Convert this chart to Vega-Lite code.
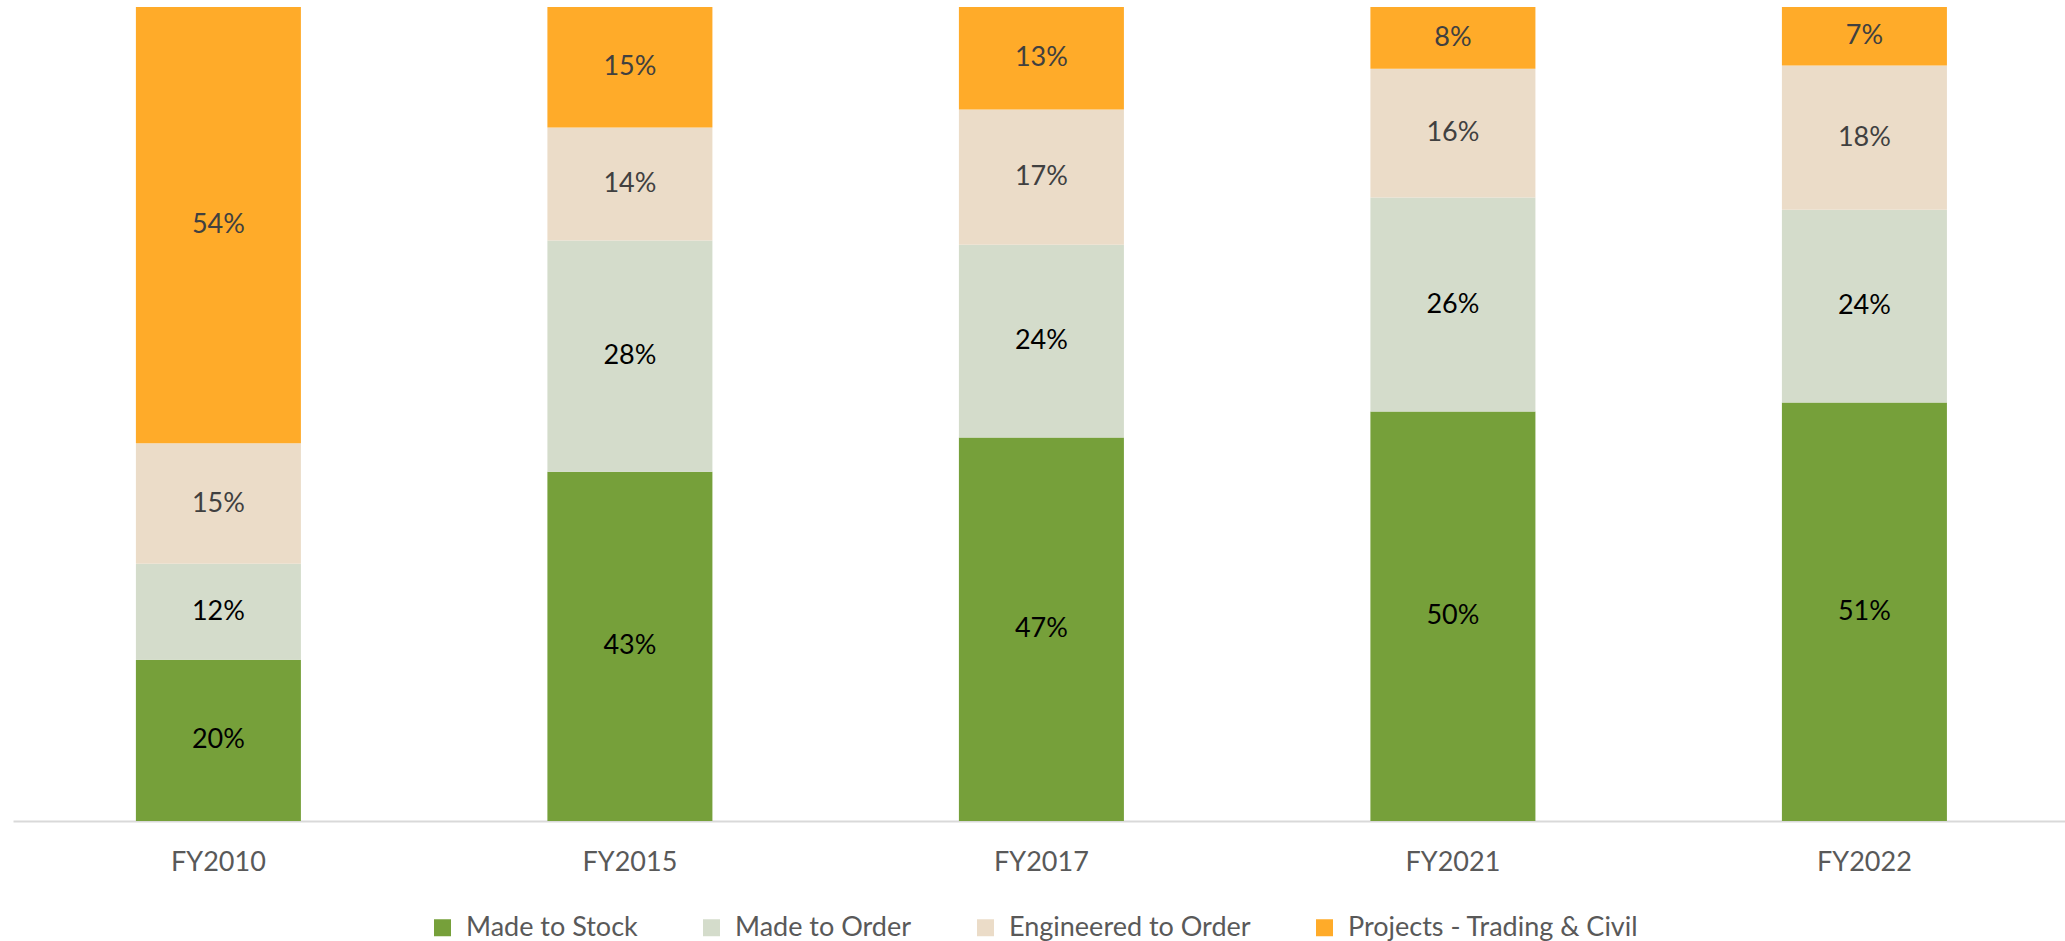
{
  "$schema": "https://vega.github.io/schema/vega-lite/v6.json",
  "width": 2052,
  "height": 814,
  "autosize": {"type": "none"},
  "padding": {"left": 13, "top": 7, "right": 0, "bottom": 120},
  "background": "white",
  "config": {"view": {"stroke": null}, "font": "Lato"},
  "data": {
    "values": [
      {"year": "FY2010", "segment": "Made to Stock", "ord": 1, "share": 0.198},
      {"year": "FY2010", "segment": "Made to Order", "ord": 2, "share": 0.118},
      {"year": "FY2010", "segment": "Engineered to Order", "ord": 3, "share": 0.148},
      {"year": "FY2010", "segment": "Projects - Trading & Civil", "ord": 4, "share": 0.536},
      {"year": "FY2015", "segment": "Made to Stock", "ord": 1, "share": 0.429},
      {"year": "FY2015", "segment": "Made to Order", "ord": 2, "share": 0.284},
      {"year": "FY2015", "segment": "Engineered to Order", "ord": 3, "share": 0.139},
      {"year": "FY2015", "segment": "Projects - Trading & Civil", "ord": 4, "share": 0.148},
      {"year": "FY2017", "segment": "Made to Stock", "ord": 1, "share": 0.471},
      {"year": "FY2017", "segment": "Made to Order", "ord": 2, "share": 0.237},
      {"year": "FY2017", "segment": "Engineered to Order", "ord": 3, "share": 0.166},
      {"year": "FY2017", "segment": "Projects - Trading & Civil", "ord": 4, "share": 0.126},
      {"year": "FY2021", "segment": "Made to Stock", "ord": 1, "share": 0.503},
      {"year": "FY2021", "segment": "Made to Order", "ord": 2, "share": 0.263},
      {"year": "FY2021", "segment": "Engineered to Order", "ord": 3, "share": 0.158},
      {"year": "FY2021", "segment": "Projects - Trading & Civil", "ord": 4, "share": 0.076},
      {"year": "FY2022", "segment": "Made to Stock", "ord": 1, "share": 0.514},
      {"year": "FY2022", "segment": "Made to Order", "ord": 2, "share": 0.237},
      {"year": "FY2022", "segment": "Engineered to Order", "ord": 3, "share": 0.177},
      {"year": "FY2022", "segment": "Projects - Trading & Civil", "ord": 4, "share": 0.072}
    ]
  },
  "encoding": {
    "x": {
      "field": "year",
      "type": "nominal",
      "sort": ["FY2010", "FY2015", "FY2017", "FY2021", "FY2022"],
      "scale": {"paddingInner": 0.599, "paddingOuter": 0.2928, "align": 0.51},
      "axis": {
        "title": null,
        "labelAngle": 0,
        "domain": true,
        "domainColor": "#D9D9D9",
        "domainWidth": 2,
        "ticks": false,
        "tickSize": 0,
        "grid": false,
        "labelFontSize": 27,
        "labelColor": "#595959",
        "labelBaseline": "middle",
        "labelPadding": 41
      }
    }
  },
  "layer": [
    {
      "mark": {"type": "bar"},
      "encoding": {
        "y": {
          "field": "share",
          "type": "quantitative",
          "stack": "normalize",
          "scale": {"domain": [0, 1], "nice": false},
          "axis": null
        },
        "color": {
          "field": "segment",
          "type": "nominal",
          "scale": {
            "domain": ["Made to Stock", "Made to Order", "Engineered to Order", "Projects - Trading & Civil"],
            "range": ["#76A03A", "#D4DCCB", "#EBDCC8", "#FFAB29"]
          },
          "legend": {
            "title": null,
            "orient": "none",
            "direction": "horizontal",
            "legendX": 416,
            "legendY": 907,
            "symbolType": "square",
            "symbolSize": 289,
            "symbolStrokeWidth": 0,
            "labelFontSize": 27,
            "labelColor": "#595959",
            "labelOffset": 10,
            "labelLimit": 600,
            "columnPadding": 60
          }
        },
        "order": {"field": "ord", "type": "quantitative", "sort": "ascending"}
      }
    },
    {
      "transform": [
        {
          "stack": "share",
          "groupby": ["year"],
          "sort": [{"field": "ord", "order": "ascending"}],
          "offset": "normalize",
          "as": ["y0", "y1"]
        },
        {"fold": ["y0", "y1"], "as": ["edge", "pos"]}
      ],
      "mark": {"type": "text", "fontSize": 27, "baseline": "middle", "align": "center"},
      "encoding": {
        "y": {"aggregate": "mean", "field": "pos", "type": "quantitative"},
        "text": {"field": "share", "type": "quantitative", "format": ".0%"},
        "detail": {"field": "segment", "type": "nominal"},
        "color": {
          "field": "segment",
          "type": "nominal",
          "scale": {
            "domain": ["Made to Stock", "Made to Order", "Engineered to Order", "Projects - Trading & Civil"],
            "range": ["#000000", "#000000", "#404040", "#404040"]
          },
          "legend": null
        }
      }
    }
  ],
  "resolve": {"scale": {"color": "independent"}}
}
